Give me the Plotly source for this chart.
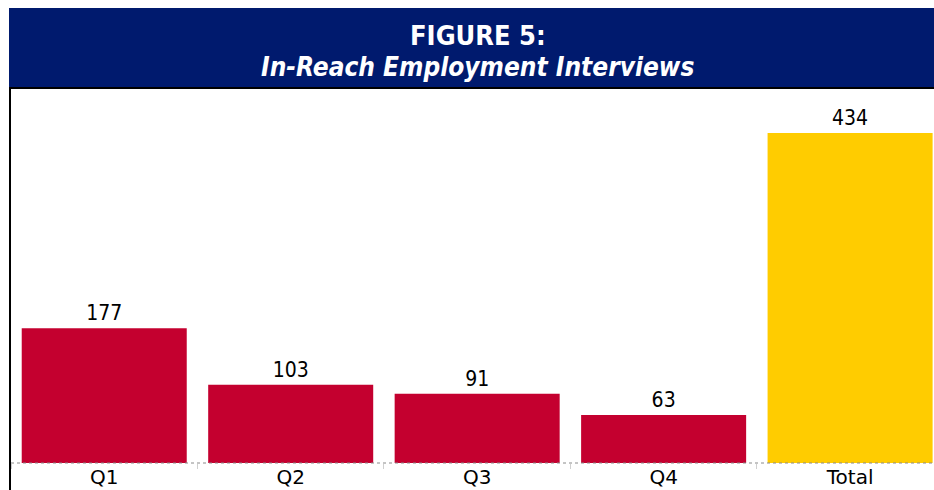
import plotly.graph_objects as go

categories = ["Q1", "Q2", "Q3", "Q4", "Total"]
values = [177, 103, 91, 63, 434]
bar_colors = ["#C4002F", "#C4002F", "#C4002F", "#C4002F", "#FFCC00"]
title_line1 = "FIGURE 5:"
title_line2 = "In-Reach Employment Interviews"

W, H = 934, 490
ML, MR, MT, MB = 11, 0, 88, 27
PW = W - ML - MR
PH = H - MT - MB

def px_x(x):
    return (x - ML) / PW

def px_y(y):
    return (H - MB - y) / PH

FONT = "DejaVu Sans Condensed"

fig = go.Figure(go.Bar(
    x=categories, y=values,
    marker=dict(color=bar_colors, line=dict(width=0)),
    text=[str(v) for v in values],
    textposition="outside",
    textfont=dict(family=FONT, size=21, color="#000000"),
    cliponaxis=False,
))

fig.update_layout(
    width=W, height=H,
    margin=dict(l=ML, r=MR, t=MT, b=MB, autoexpand=False),
    paper_bgcolor="white", plot_bgcolor="white",
    bargap=0.115,
    showlegend=False,
    xaxis=dict(
        range=[-0.5, 4.45], showgrid=False, zeroline=False,
        showline=False, automargin=False,
        ticks="outside", tickson="boundaries", ticklen=5, tickcolor="#d0d0d0",
        ticklabelstandoff=0,
        tickfont=dict(family="DejaVu Sans", size=20, color="#000000"),
        fixedrange=True,
    ),
    yaxis=dict(range=[0, 493], visible=False, fixedrange=True, automargin=False),
    font=dict(family=FONT),
    shapes=[
        dict(type="rect", xref="paper", yref="paper",
             x0=px_x(9), x1=px_x(940), y0=px_y(87), y1=px_y(8),
             fillcolor="#001A6E", line=dict(width=0), layer="above"),
        dict(type="line", xref="paper", yref="paper",
             x0=px_x(9), x1=px_x(940), y0=px_y(88), y1=px_y(88),
             line=dict(color="#000000", width=2)),
        dict(type="line", xref="paper", yref="paper",
             x0=px_x(10), x1=px_x(10), y0=px_y(88), y1=px_y(495),
             line=dict(color="#000000", width=2)),
        dict(type="line", xref="paper", yref="paper",
             x0=px_x(11), x1=px_x(934), y0=px_y(463), y1=px_y(463),
             line=dict(color="#8a8a8a", width=1, dash="dot")),
    ],
    annotations=[
        dict(text="<b>" + title_line1 + "</b>", xref="paper", yref="paper",
             x=px_x(478), y=px_y(35), xanchor="center", yanchor="middle",
             showarrow=False, font=dict(family=FONT, size=27, color="white")),
        dict(text="<b><i>" + title_line2 + "</i></b>", xref="paper", yref="paper",
             x=px_x(477), y=px_y(67), xanchor="center", yanchor="middle",
             showarrow=False, font=dict(family=FONT, size=26, color="white")),
    ],
)

fig.write_html("out.html", config={"displayModeBar": False})
